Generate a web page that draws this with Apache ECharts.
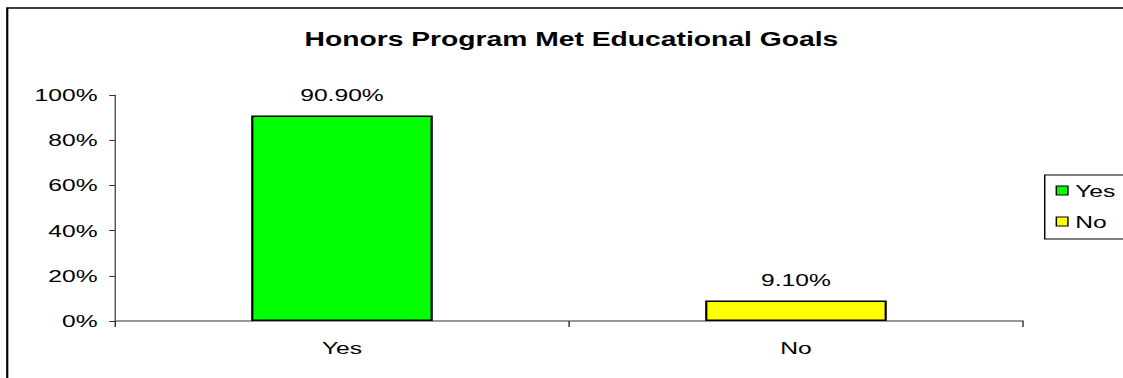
<!DOCTYPE html>
<html>
<head>
<meta charset="utf-8">
<title>Honors Program Met Educational Goals</title>
<script src="https://cdn.jsdelivr.net/npm/echarts@6/dist/echarts.min.js"></script>
<style>
  html, body { margin: 0; padding: 0; background: #fff; overflow: hidden; width: 1123px; height: 378px; }
  /* The chart is laid out narrow and widened, so its text reads wide like the original sheet;
     it runs a little past the right edge of the window, where the frames are left open */
  #chart { width: 800px; height: 378px; transform: scaleX(1.45); transform-origin: 0 0; }
</style>
</head>
<body>
<div id="chart"></div>
<script>
// Survey answers
const categories = ['Yes', 'No'];
const percentages = [90.9, 9.1];
const yTicks = [0, 20, 40, 60, 80, 100];

const barColors = ['#00ff00', '#ffff00'];
const FONT = 'Liberation Sans, Arial, sans-serif';

const chart = echarts.init(document.getElementById('chart'), null, { renderer: 'svg' });

// One series per answer so each gets its own legend entry; they share the slot of their category
const series = categories.map((name, i) => ({
  name: name,
  type: 'bar',
  barWidth: '40%',
  barGap: '-100%',
  data: categories.map((c, j) => (j === i ? percentages[i] : '-')),
  itemStyle: { color: barColors[i], borderColor: '#000', borderWidth: 1.5 },
  label: {
    show: true,
    position: 'top',
    distance: 12,
    color: '#000',
    fontFamily: FONT,
    fontSize: 17,
    formatter: p => p.value.toFixed(2) + '%'
  }
}));

chart.setOption({
  animation: false,
  backgroundColor: '#fff',
  title: {
    text: 'Honors Program Met Educational Goals',
    left: 210,
    top: 29,
    padding: 0,
    textStyle: { fontFamily: FONT, fontSize: 19.5, fontWeight: 'bold', color: '#000' }
  },
  legend: {
    data: categories,
    orient: 'vertical',
    left: 721,
    top: 175,
    padding: [7, 7, 7, 7],
    itemGap: 14,
    itemWidth: 8,
    itemHeight: 9,
    icon: 'rect',
    itemStyle: { borderColor: '#000', borderWidth: 1 },
    textStyle: { fontFamily: FONT, fontSize: 17, color: '#000' }
  },
  grid: { left: 79.3, right: 94.5, top: 95, bottom: 57, containLabel: false },
  xAxis: {
    type: 'category',
    data: categories,
    axisLine: { lineStyle: { color: '#777', width: 1.5 } },
    axisTick: { show: true, length: 6, lineStyle: { color: '#333', width: 1 } },
    axisLabel: { margin: 18, color: '#000', fontFamily: FONT, fontSize: 17 }
  },
  yAxis: {
    type: 'value',
    min: yTicks[0],
    max: yTicks[yTicks.length - 1],
    interval: yTicks[1] - yTicks[0],
    splitLine: { show: false },
    axisLine: { show: true, lineStyle: { color: '#555', width: 1 } },
    axisTick: { show: true, inside: false, length: 4, lineStyle: { color: '#333', width: 1 } },
    axisLabel: { margin: 12, color: '#000', fontFamily: FONT, fontSize: 17, formatter: '{value}%' }
  },
  graphic: [
    // outer chart frame, running past the right and bottom edges
    {
      type: 'rect',
      shape: { x: 5, y: 8, width: 900, height: 500 },
      style: { fill: 'none', stroke: '#000', lineWidth: 1.5 },
      silent: true,
      z: 100
    },
    // legend frame, open past the right edge
    {
      type: 'rect',
      shape: { x: 720.5, y: 175, width: 200, height: 64 },
      style: { fill: 'none', stroke: '#000', lineWidth: 1 },
      silent: true,
      z: 100
    }
  ],
  series: series
});
</script>
</body>
</html>
